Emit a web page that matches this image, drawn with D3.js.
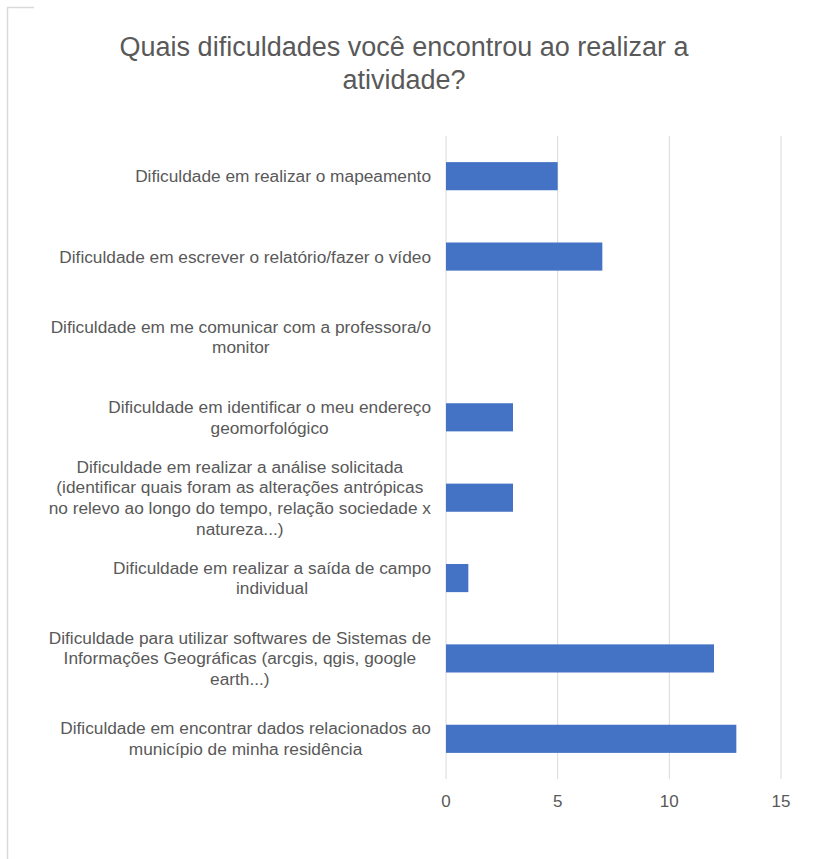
<!DOCTYPE html>
<html>
<head>
<meta charset="utf-8">
<script src="https://cdn.jsdelivr.net/npm/d3@7"></script>
<style>
    body { margin: 0; background: #fff; }
    text { font-family: "Liberation Sans", Arial, sans-serif; fill: #595959; }
</style>
</head>
<body>
<div id="chart"></div>
<script>
// Chart data
const categories = [
    ["Dificuldade em realizar o mapeamento"],
    ["Dificuldade em escrever o relatório/fazer o vídeo"],
    ["Dificuldade em me comunicar com a professora/o", "monitor"],
    ["Dificuldade em identificar o meu endereço", "geomorfológico"],
    ["Dificuldade em realizar a análise solicitada", "(identificar quais foram as alterações antrópicas", "no relevo ao longo do tempo, relação sociedade x", "natureza...)"],
    ["Dificuldade em realizar a saída de campo", "individual"],
    ["Dificuldade para utilizar softwares de Sistemas de", "Informações Geográficas (arcgis, qgis, google", "earth...)"],
    ["Dificuldade em encontrar dados relacionados ao", "município de minha residência"]
];
const values = [5, 7, 0, 3, 3, 1, 12, 13];
const xTicks = [0, 5, 10, 15];
const titleLines = ["Quais dificuldades você encontrou ao realizar a", "atividade?"];

const width = 814;
const height = 859;

const svg = d3.select("#chart")
    .append("svg")
    .attr("width", width)
    .attr("height", height);

// frame remnant at top left
svg.append("path")
    .attr("d", "M7.5,859 V7.5 H34")
    .attr("fill", "none")
    .attr("stroke", "#d9d9d9")
    .attr("stroke-width", 1.5);

// title
svg.append("text")
    .attr("text-anchor", "middle")
    .style("font-size", "27px")
    .selectAll("tspan")
    .data(titleLines)
    .enter()
    .append("tspan")
    .attr("x", 404)
    .attr("y", (d, i) => 56 + i * 33)
    .text(d => d);

const x = d3.scaleLinear()
    .domain([0, 15])
    .range([446, 781]);

const y = d3.scaleBand()
    .domain(d3.range(categories.length))
    .range([136, 779])
    .paddingInner(0.65)
    .paddingOuter(0.325);

// gridlines
svg.append("g")
    .selectAll("line")
    .data(xTicks)
    .enter()
    .append("line")
    .attr("x1", d => x(d))
    .attr("x2", d => x(d))
    .attr("y1", 136)
    .attr("y2", 779)
    .attr("stroke", "#d9d9d9")
    .attr("stroke-width", 1);

// bars
svg.append("g")
    .selectAll("rect")
    .data(values)
    .enter()
    .append("rect")
    .attr("x", x(0))
    .attr("y", (d, i) => y(i))
    .attr("width", d => x(d) - x(0))
    .attr("height", y.bandwidth())
    .attr("fill", "#4472C4");

// x tick labels
svg.append("g")
    .selectAll("text")
    .data(xTicks)
    .enter()
    .append("text")
    .attr("x", d => x(d))
    .attr("y", 807)
    .attr("text-anchor", "middle")
    .style("font-size", "17px")
    .text(d => d);

// category labels (centered lines, block right-aligned to axis)
const lineH = 20.7;
const labels = svg.append("g")
    .selectAll("g")
    .data(categories)
    .enter()
    .append("g");

labels.each(function(lines, i) {
    const g = d3.select(this);
    const cy = y(i) + y.bandwidth() / 2;
    const top = cy - (lines.length - 1) * lineH / 2 + 6;
    const t = g.append("text")
        .attr("text-anchor", "middle")
        .style("font-size", "17.3px");
    const spans = t.selectAll("tspan")
        .data(lines)
        .enter()
        .append("tspan")
        .attr("x", 0)
        .attr("y", (d, j) => top + j * lineH)
        .text(d => d);
    let w = 0;
    spans.each(function() { w = Math.max(w, this.getComputedTextLength()); });
    spans.attr("x", 431 - w / 2);
});
</script>
</body>
</html>
